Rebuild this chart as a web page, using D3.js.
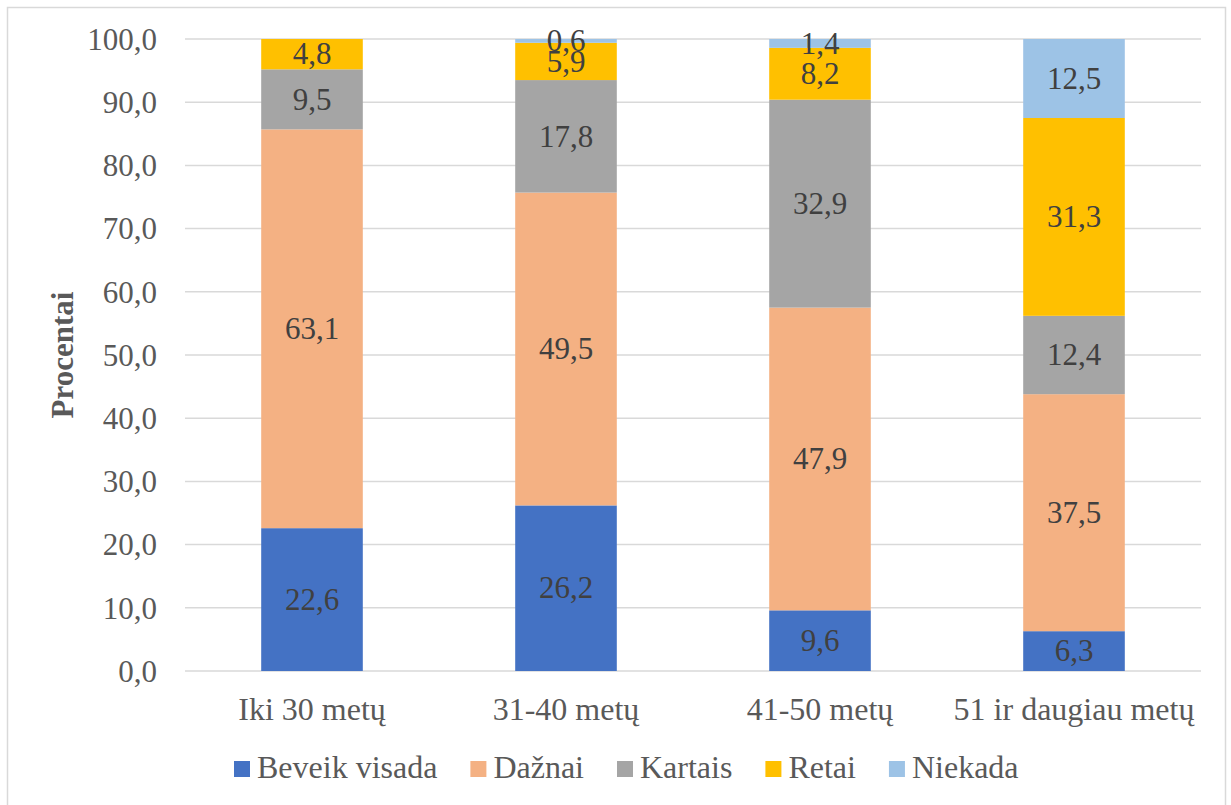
<!DOCTYPE html>
<html>
<head>
<meta charset="utf-8">
<script src="https://cdn.jsdelivr.net/npm/d3@7"></script>
<style>
  html, body { margin: 0; padding: 0; background: #fff; }
  svg { display: block; }
  text { font-family: "Liberation Serif", "Times New Roman", serif; }
</style>
</head>
<body>
<svg id="chart" width="1231" height="805"></svg>
<script>
// Age groups on the x axis
const categories = ["Iki 30 metų", "31-40 metų", "41-50 metų", "51 ir daugiau metų"];
// Answer series, stacked bottom to top
const seriesNames = ["Beveik visada", "Dažnai", "Kartais", "Retai", "Niekada"];
const beveikVisada = [22.6, 26.2, 9.6, 6.3];
const daznai       = [63.1, 49.5, 47.9, 37.5];
const kartais      = [9.5, 17.8, 32.9, 12.4];
const retai        = [4.8, 5.9, 8.2, 31.3];
const niekada      = [0, 0.6, 1.4, 12.5];
const yTicks = [0, 10, 20, 30, 40, 50, 60, 70, 80, 90, 100];
const colors = ["#4472C4", "#F4B183", "#A5A5A5", "#FFC000", "#9DC3E6"];

const seriesValues = [beveikVisada, daznai, kartais, retai, niekada];
const rows = categories.map((c, i) => {
  const r = { category: c };
  seriesNames.forEach((s, k) => { r[s] = seriesValues[k][i]; });
  return r;
});

const svg = d3.select("#chart");
const W = 1231, H = 805;
const margin = { left: 185, right: 30, top: 39, bottom: 134 };
const fmt = v => d3.format(".1f")(v).replace(".", ",");

// outer frame (runs past the bottom edge)
svg.append("rect")
  .attr("x", 7.5).attr("y", 7.5)
  .attr("width", 1218).attr("height", H)
  .attr("fill", "#fff").attr("stroke", "#d9d9d9").attr("stroke-width", 1.5);

const x = d3.scaleBand().domain(categories)
  .range([margin.left, W - margin.right]).paddingInner(0.6).paddingOuter(0.3);
const y = d3.scaleLinear().domain([0, 100]).range([H - margin.bottom, margin.top]);

// gridlines
svg.append("g")
  .selectAll("line").data(yTicks).join("line")
  .attr("x1", margin.left).attr("x2", W - margin.right)
  .attr("y1", d => y(d)).attr("y2", d => y(d))
  .attr("stroke", "#d9d9d9").attr("stroke-width", 1.5);

// y axis labels
const yAxis = d3.axisLeft(y).tickValues(yTicks).tickSize(0).tickPadding(0).tickFormat(fmt);
const gy = svg.append("g").attr("transform", "translate(157,0)").call(yAxis);
gy.select(".domain").remove();
gy.selectAll("text")
  .attr("font-size", 31).attr("fill", "#595959").attr("dy", "0.33em");

// stacked bars
const layers = d3.stack().keys(seriesNames)(rows);
const gBars = svg.append("g");
layers.forEach((layer, k) => {
  gBars.append("g").attr("fill", colors[k])
    .selectAll("rect").data(layer).join("rect")
    .attr("x", d => x(d.data.category))
    .attr("width", x.bandwidth())
    .attr("y", d => y(d[1]))
    .attr("height", d => y(d[0]) - y(d[1]));
});

// value labels centred in each segment
const gLab = svg.append("g");
layers.forEach((layer, k) => {
  gLab.append("g")
    .selectAll("text").data(layer.filter(d => d[1] - d[0] > 0)).join("text")
    .attr("x", d => x(d.data.category) + x.bandwidth() / 2)
    .attr("y", d => y((d[0] + d[1]) / 2))
    .attr("dy", "0.33em")
    .attr("text-anchor", "middle")
    .attr("font-size", 31).attr("fill", "#404040")
    .text(d => fmt(d[1] - d[0]));
});

// x axis labels
const xAxis = d3.axisBottom(x).tickSize(0).tickPadding(0);
const gx = svg.append("g").attr("transform", `translate(0,${y(0) + 49})`).call(xAxis);
gx.select(".domain").remove();
gx.selectAll("text")
  .attr("font-size", 32).attr("fill", "#595959").attr("dy", 0);

// y axis title
svg.append("text")
  .attr("transform", `translate(73,${(y(0) + y(100)) / 2}) rotate(-90)`)
  .attr("text-anchor", "middle")
  .attr("font-size", 31).attr("font-weight", "bold").attr("fill", "#595959")
  .text("Procentai");

// legend laid out left to right
const gLeg = svg.append("g").attr("transform", "translate(234,761)");
let cursor = 0;
seriesNames.forEach((s, k) => {
  const g = gLeg.append("g").attr("transform", `translate(${cursor},0)`);
  g.append("rect").attr("width", 16).attr("height", 16).attr("fill", colors[k]);
  const t = g.append("text").attr("x", 23).attr("y", 17)
    .attr("font-size", 32).attr("fill", "#595959").text(s);
  cursor += 23 + t.node().getComputedTextLength() + 33;
});
</script>
</body>
</html>
